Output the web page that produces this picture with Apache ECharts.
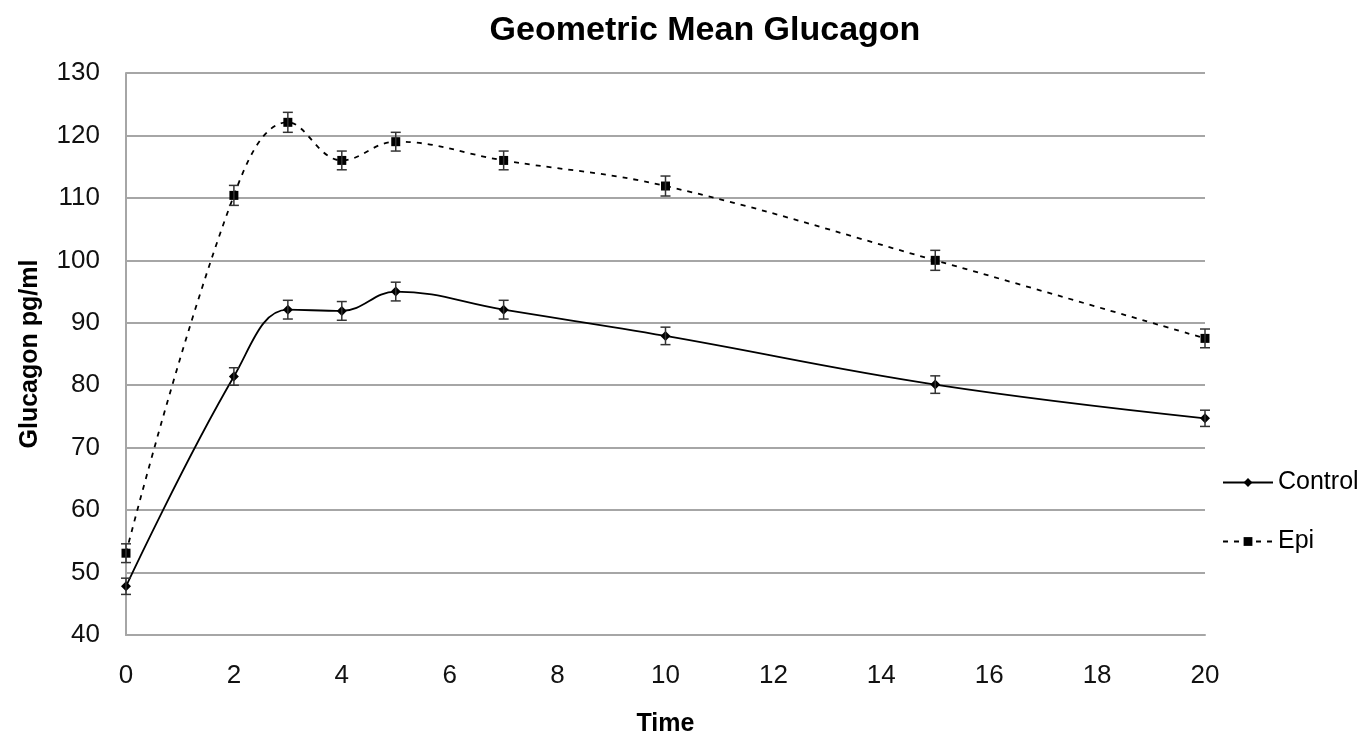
<!DOCTYPE html>
<html>
<head>
<meta charset="utf-8">
<script src="https://cdn.jsdelivr.net/npm/echarts@6/dist/echarts.min.js"></script>
<style>
  html, body { margin: 0; padding: 0; background: #fff; }
  #chart { width: 1371px; height: 742px; }
</style>
</head>
<body>
<div id="chart"></div>
<script>
// time points (x axis is numeric)
const times = [0, 2, 3, 4, 5, 7, 10, 15, 20]
const controlVals = [47.8, 81.4, 92.1, 91.9, 95.0, 92.1, 87.9, 80.1, 74.7]
const epiVals = [53.1, 110.4, 122.1, 116.0, 119.0, 116.0, 111.9, 100.0, 87.5]
const controlErr = [1.3, 1.4, 1.5, 1.5, 1.5, 1.5, 1.4, 1.4, 1.3]
const epiErr = [1.5, 1.6, 1.6, 1.5, 1.5, 1.5, 1.6, 1.6, 1.5]
const yTicks = { min: 40, max: 130, step: 10 }
const xTicks = { min: 0, max: 20, step: 2 }

const FONT = "'Liberation Sans', Arial, sans-serif"

const toPairs = vals => times.map((t, i) => [t, vals[i]])
const toErr = (vals, err) => times.map((t, i) => [t, vals[i] - err[i], vals[i] + err[i]])

const errorBars = (params, api) => {
  const x = api.value(0)
  const lo = api.coord([x, api.value(1)])
  const hi = api.coord([x, api.value(2)])
  const cap = 5
  const style = { stroke: '#333', lineWidth: 1.5 }
  return {
    type: 'group',
    children: [
      { type: 'line', shape: { x1: lo[0], y1: lo[1], x2: hi[0], y2: hi[1] }, style },
      { type: 'line', shape: { x1: lo[0] - cap, y1: lo[1], x2: lo[0] + cap, y2: lo[1] }, style },
      { type: 'line', shape: { x1: hi[0] - cap, y1: hi[1], x2: hi[0] + cap, y2: hi[1] }, style }
    ]
  }
}

const chart = echarts.init(document.getElementById('chart'))
chart.setOption({
  animation: false,
  backgroundColor: '#fff',
  title: {
    text: 'Geometric Mean Glucagon',
    left: 700, top: 9, textAlign: 'center',
    textStyle: { fontFamily: FONT, fontSize: 34, fontWeight: 'bold', color: '#000' }
  },
  legend: {
    orient: 'vertical', left: 1217, top: 465, itemGap: 34,
    itemWidth: 50, itemHeight: 11,
    data: ['Control', 'Epi'],
    textStyle: { fontFamily: FONT, fontSize: 25, color: '#000' }
  },
  grid: { left: 126, right: 166, top: 73, bottom: 106, containLabel: false },
  xAxis: {
    type: 'value', min: xTicks.min, max: xTicks.max, interval: xTicks.step,
    name: 'Time', nameLocation: 'middle', nameGap: 77,
    nameTextStyle: { fontFamily: FONT, fontSize: 25, fontWeight: 'bold', color: '#000' },
    axisLine: { show: true, lineStyle: { color: '#a6a6a6', width: 2 } },
    axisTick: { show: false },
    splitLine: { show: false },
    axisLabel: { fontFamily: FONT, fontSize: 26, color: '#111', margin: 28 }
  },
  yAxis: {
    type: 'value', min: yTicks.min, max: yTicks.max, interval: yTicks.step,
    name: 'Glucagon pg/ml', nameLocation: 'middle', nameGap: 83, nameRotate: 90,
    nameTextStyle: { fontFamily: FONT, fontSize: 25, fontWeight: 'bold', color: '#000' },
    axisLine: { show: true, lineStyle: { color: '#a6a6a6', width: 2 } },
    axisTick: { show: false },
    splitLine: { show: true, lineStyle: { color: '#a6a6a6', width: 2 } },
    axisLabel: { fontFamily: FONT, fontSize: 26, color: '#111', margin: 26 }
  },
  series: [
    {
      name: 'Control', type: 'line', data: toPairs(controlVals), smooth: 0.4,
      symbol: 'diamond', symbolSize: 10,
      lineStyle: { color: '#000', width: 1.8 },
      itemStyle: { color: '#000' }, z: 3
    },
    {
      name: 'Epi', type: 'line', data: toPairs(epiVals), smooth: 0.4,
      symbol: 'rect', symbolSize: 9,
      lineStyle: { color: '#000', width: 1.8, type: [5, 6] },
      itemStyle: { color: '#000' }, z: 3
    },
    {
      type: 'custom', renderItem: errorBars, data: toErr(controlVals, controlErr),
      encode: { x: 0, y: [1, 2] }, z: 4, silent: true
    },
    {
      type: 'custom', renderItem: errorBars, data: toErr(epiVals, epiErr),
      encode: { x: 0, y: [1, 2] }, z: 4, silent: true
    }
  ]
})
</script>
</body>
</html>
